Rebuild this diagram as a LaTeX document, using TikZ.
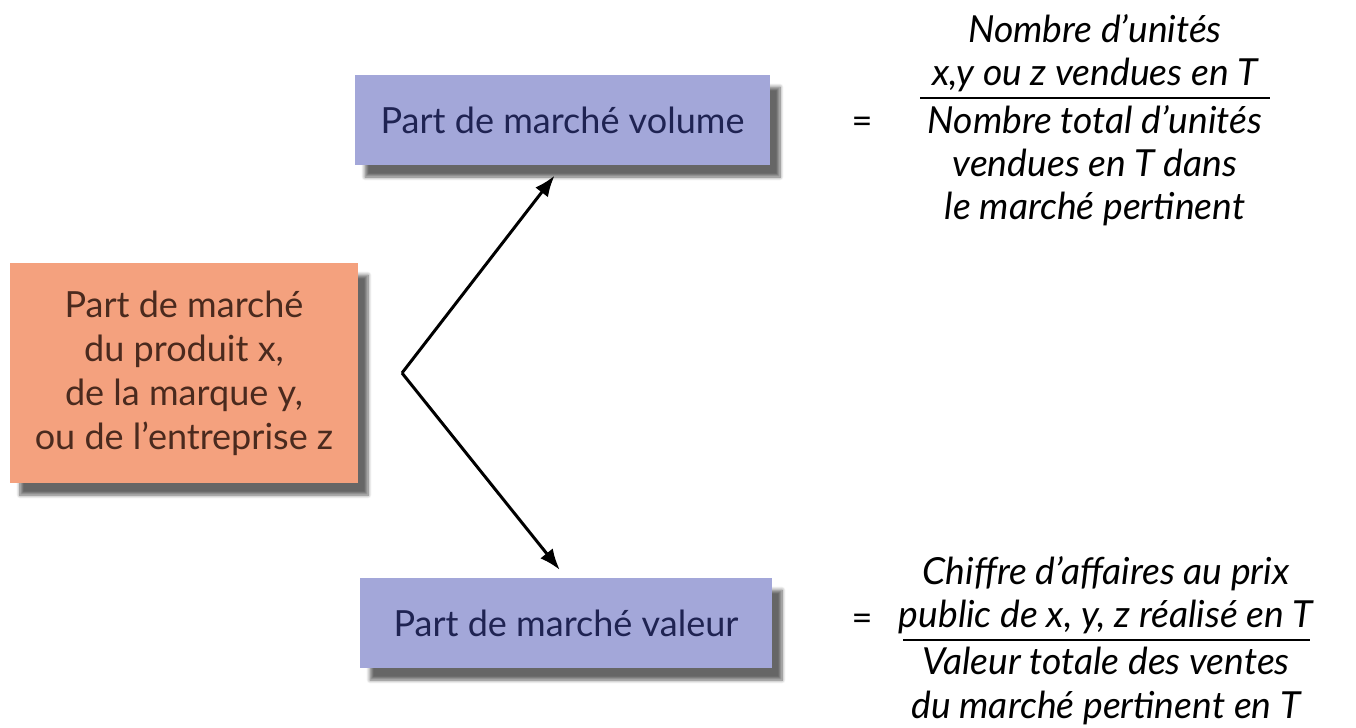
\documentclass[tikz,border=0pt]{standalone}
\usepackage{fontspec}
\setmainfont{Lato}
\usetikzlibrary{shadows.blur,arrows.meta}
\definecolor{saumon}{HTML}{F4A17E}
\definecolor{brun}{HTML}{4A2A1E}
\definecolor{lavande}{HTML}{A3A7D9}
\definecolor{marine}{HTML}{1F2352}
\newcommand{\fs}{\fontsize{20.5}{25}\selectfont}
\newcommand{\fit}{\fontsize{21.2}{24.6}\selectfont\itshape}

\begin{document}
\begin{tikzpicture}[
   boite/.style={rectangle,minimum height=1.8cm,inner sep=0pt,
      blur shadow={shadow xshift=0.2cm,shadow yshift=-0.24cm,shadow blur steps=8,shadow opacity=60}},
   ligne/.style={align=center,font=\fit,inner sep=0pt},
   fleche/.style={line width=1.7pt,-{Latex[length=0.42cm,width=0.32cm]}}
  ]
   \useasboundingbox (0,0) rectangle (27.12,-14.54);
   \node[boite,fill=saumon,text=brun,align=center,minimum width=6.96cm,minimum height=4.4cm,font=\fs] (pdm) at (3.68,-7.46)
      {Part de marché\\du produit x,\\de la marque y,\\ou de l’entreprise z};
   \node[boite,fill=lavande,text=marine,minimum width=8.3cm,font=\fs] (vol) at (11.25,-2.4) {Part de marché volume};
   \node[boite,fill=lavande,text=marine,minimum width=8.24cm,font=\fs] (val) at (11.32,-12.46) {Part de marché valeur};
   \coordinate (pivot) at (8.04,-7.46);
   \draw[fleche,shorten >=0.26cm] (pivot) -- (vol.south);
   \draw[fleche,shorten >=0.2cm] (pivot) -- (val.north);
   % volume
   \node[font=\fs] (eg1) at (17.24,-2.5) {=};
   \coordinate (b1g) at (18.4,-1.96);
   \coordinate (b1d) at (25.4,-1.96);
   \draw[line width=1.3pt] (b1g) -- (b1d);
   \node[ligne,anchor=south] (num1) at (21.9,-1.84) {Nombre d’unités\\x,y ou z vendues en T};
   \node[ligne,anchor=north] (den1) at (21.9,-2.1) {Nombre total d’unités\\vendues en T dans\\le marché pertinent};
   % valeur
   \node[font=\fs] (eg2) at (17.24,-12.44) {=};
   \coordinate (b2g) at (18.06,-12.8);
   \coordinate (b2d) at (26.2,-12.8);
   \draw[line width=1.3pt] (b2g) -- (b2d);
   \node[ligne,anchor=south] (num2) at (22.12,-12.68) {Chiffre d’affaires au prix\\public de x, y, z réalisé en T};
   \node[ligne,anchor=north] (den2) at (22.12,-12.94) {Valeur totale des ventes\\du marché pertinent en T};
  \end{tikzpicture}
\end{document}
